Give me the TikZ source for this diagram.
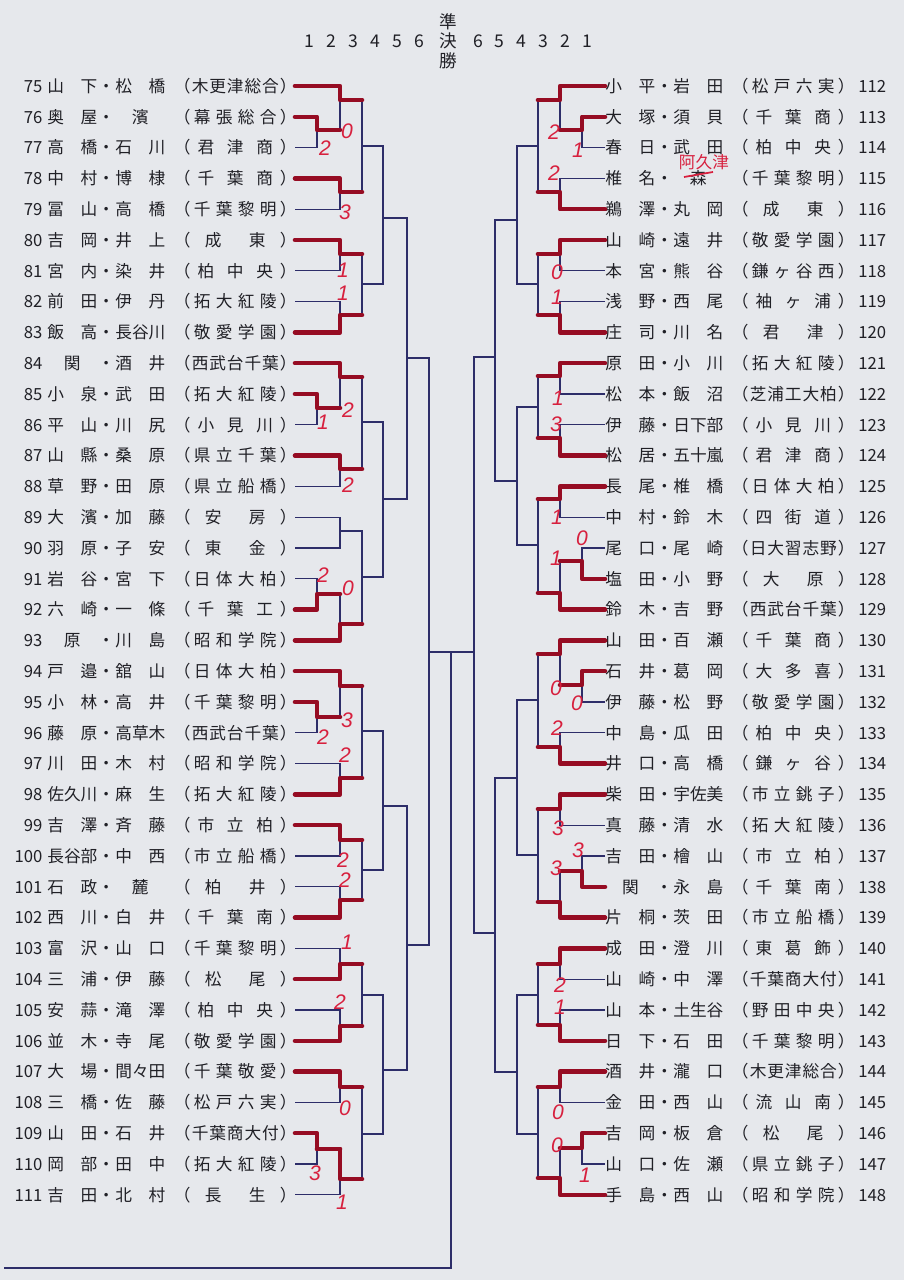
\documentclass[tikz,border=0pt]{standalone}
\usepackage{fontspec}
\setmainfont{Noto Sans CJK JP}
\newfontfamily\handfont{Liberation Sans}
\definecolor{paper}{RGB}{230,232,236}
\definecolor{ink}{RGB}{32,32,38}
\definecolor{navy}{RGB}{45,45,105}
\definecolor{marker}{RGB}{150,12,35}
\definecolor{pen}{RGB}{215,32,62}
\tikzset{
  wire/.style={navy, line width=0.7pt},
  won/.style={marker, line width=2.6pt, line cap=round, line join=round},
  entry/.style={inner sep=0pt, anchor=west, text=ink, font=\fontsize{9.5}{10}\selectfont},
  score/.style={inner sep=0pt, text=pen, font=\handfont\itshape\fontsize{12}{12}\selectfont},
  head/.style={inner sep=0pt, text=ink, font=\fontsize{10}{11.1}\selectfont}
}
% spread the characters of a name / a school over a fixed box
\makeatletter
\def\spr#1{\hfil\expandafter\spr@#1\@nil}
\def\spr@#1#2\@nil{#1\ifx\relax#2\relax\hfil\else\hfill\spr@#2\@nil\fi}
\def\sch#1{\hfil\expandafter\sch@#1\@nil}
\def\sch@#1#2\@nil{#1\ifx\relax#2\relax\hfil\else\hfil\hfil\sch@#2\@nil\fi}
\makeatother
\newcommand\rowbox[3]{%
  \hbox to 1cm{\spr{#1}}\hbox to .36cm{\hss ・\hss}\hbox to 1cm{\spr{#2}}\hskip .16cm%
  \hbox to .36cm{\hss （\hss}\hbox to 1.76cm{\sch{#3}}\hbox to .36cm{\hss ）\hss}}
% one match: name, upper input, lower input, column, exit height
\newcommand\bout[5]{%
  \draw[wire] (#2) -- (#2 -| #4) -- (#3 -| #4) -- (#3);
  \path (#4) ++(0,#5) coordinate (#1);}
% winner marked in red: input, match, next column
\newcommand\bwin[3]{%
  \draw[won] (#1) -- (#1 -| #2) -- (#2) -- (#2 -| #3);}

\begin{document}
\begin{tikzpicture}[x=0.02cm, y=-0.02cm]
  \useasboundingbox (0,0) rectangle (904,1280);
  \fill[paper] (0,0) rectangle (904,1280);

  % round numbers
  \foreach \hx/\hv [count=\k] in {309/1,331/2,353/3,375/4,397/5,419/6,
      478/6,499/5,521/4,543/3,565/2,587/1}
    \node[head] (hd\k) at (\hx,41) {\hv};
  \node[head, align=center] (semi) at (448,41) {準\\決\\勝};

  \foreach \k/\xl/\xr in {1/317/582,2/340/560,3/362/538,4/383/517,5/407/495,6/429/474} {
    \coordinate (cl\k) at (\xl,0);
    \coordinate (cr\k) at (\xr,0);
  }

  % left block
  \foreach \idx/\sn/\gn/\school in {
      75/山下/松橋/木更津総合, 76/奥屋/濱/幕張総合, 77/高橋/石川/君津商,
      78/中村/博棣/千葉商, 79/冨山/高橋/千葉黎明, 80/吉岡/井上/成東,
      81/宮内/染井/柏中央, 82/前田/伊丹/拓大紅陵, 83/飯高/長谷川/敬愛学園,
      84/関/酒井/西武台千葉, 85/小泉/武田/拓大紅陵, 86/平山/川尻/小見川,
      87/山縣/桑原/県立千葉, 88/草野/田原/県立船橋, 89/大濱/加藤/安房,
      90/羽原/子安/東金, 91/岩谷/宮下/日体大柏, 92/六崎/一條/千葉工,
      93/原/川島/昭和学院, 94/戸邉/舘山/日体大柏, 95/小林/高井/千葉黎明,
      96/藤原/高草木/西武台千葉, 97/川田/木村/昭和学院, 98/佐久川/麻生/拓大紅陵,
      99/吉澤/斉藤/市立柏, 100/長谷部/中西/市立船橋, 101/石政/麓/柏井,
      102/西川/白井/千葉南, 103/富沢/山口/千葉黎明, 104/三浦/伊藤/松尾,
      105/安蒜/滝澤/柏中央, 106/並木/寺尾/敬愛学園, 107/大場/間々田/千葉敬愛,
      108/三橋/佐藤/松戸六実, 109/山田/石井/千葉商大付, 110/岡部/田中/拓大紅陵,
      111/吉田/北村/長生} {
    \pgfmathsetmacro\yy{86+(\idx-75)*30.8}
    \coordinate (L\idx) at (295,\yy);
    \node[entry] (tL\idx) at (8,\yy) {\hbox to .68cm{\hfil\idx}\hskip .1cm\rowbox{\sn}{\gn}{\school}};
  }

  % right block
  \foreach \idx/\sn/\gn/\school in {
      112/小平/岩田/松戸六実, 113/大塚/須貝/千葉商, 114/春日/武田/柏中央,
      115/椎名/森/千葉黎明, 116/鵜澤/丸岡/成東, 117/山崎/遠井/敬愛学園,
      118/本宮/熊谷/鎌ヶ谷西, 119/浅野/西尾/袖ヶ浦, 120/庄司/川名/君津,
      121/原田/小川/拓大紅陵, 122/松本/飯沼/芝浦工大柏, 123/伊藤/日下部/小見川,
      124/松居/五十嵐/君津商, 125/長尾/椎橋/日体大柏, 126/中村/鈴木/四街道,
      127/尾口/尾崎/日大習志野, 128/塩田/小野/大原, 129/鈴木/吉野/西武台千葉,
      130/山田/百瀬/千葉商, 131/石井/葛岡/大多喜, 132/伊藤/松野/敬愛学園,
      133/中島/瓜田/柏中央, 134/井口/高橋/鎌ヶ谷, 135/柴田/宇佐美/市立銚子,
      136/真藤/清水/拓大紅陵, 137/吉田/檜山/市立柏, 138/関/永島/千葉南,
      139/片桐/茨田/市立船橋, 140/成田/澄川/東葛飾, 141/山崎/中澤/千葉商大付,
      142/山本/土生谷/野田中央, 143/日下/石田/千葉黎明, 144/酒井/瀧口/木更津総合,
      145/金田/西山/流山南, 146/吉岡/板倉/松尾, 147/山口/佐瀬/県立銚子,
      148/手島/西山/昭和学院} {
    \pgfmathsetmacro\yy{86+(\idx-112)*30.8}
    \coordinate (R\idx) at (605,\yy);
    \node[entry] (tR\idx) at (605,\yy) {\rowbox{\sn}{\gn}{\school}\hskip .06cm\idx};
  }

  % bracket, left
  \foreach \m/\p/\q/\col/\ey in {
      la1/L76/L77/cl1/130, la2/L75/la1/cl2/100, la3/L78/L79/cl2/192, la4/la2/la3/cl3/146,
      lb1/L80/L81/cl2/254, lb2/L82/L83/cl2/315, lb3/lb1/lb2/cl3/284, lab/la4/lb3/cl4/218,
      lc1/L85/L86/cl1/408, lc2/L84/lc1/cl2/377, lc3/L87/L88/cl2/469, lc4/lc2/lc3/cl3/422,
      ld1/L89/L90/cl2/531, ld2/L91/L92/cl1/594, ld3/ld2/L93/cl2/624, ld4/ld1/ld3/cl3/577,
      lcd/lc4/ld4/cl4/499, labcd/lab/lcd/cl5/358,
      le1/L95/L96/cl1/717, le2/L94/le1/cl2/686, le3/L97/L98/cl2/778, le4/le2/le3/cl3/731,
      lf1/L99/L100/cl2/840, lf2/L101/L102/cl2/900, lf3/lf1/lf2/cl3/870, lef/le4/lf3/cl4/806,
      lg1/L103/L104/cl2/964, lg2/L105/L106/cl2/1026, lg3/lg1/lg2/cl3/995,
      lh1/L107/L108/cl2/1087, lh2/L109/L110/cl1/1149, lh3/lh2/L111/cl2/1179, lh4/lh1/lh3/cl3/1134,
      lgh/lg3/lh4/cl4/1070, lefgh/lef/lgh/cl5/945, SL/labcd/lefgh/cl6/652} {
    \bout{\m}{\p}{\q}{\col}{\ey}
  }

  % bracket, right
  \foreach \m/\p/\q/\col/\ey in {
      ra1/R113/R114/cr1/130, ra2/R112/ra1/cr2/100, ra3/R115/R116/cr2/192, ra4/ra2/ra3/cr3/146,
      rb1/R117/R118/cr2/254, rb2/R119/R120/cr2/315, rb3/rb1/rb2/cr3/284, rab/ra4/rb3/cr4/220,
      rc1/R121/R122/cr2/376, rc2/R123/R124/cr2/438, rc3/rc1/rc2/cr3/407,
      rd1/R125/R126/cr2/499, rd2/R127/R128/cr1/561, rd3/rd2/R129/cr2/593, rd4/rd1/rd3/cr3/545,
      rcd/rc3/rd4/cr4/481, rabcd/rab/rcd/cr5/357,
      re1/R131/R132/cr1/685, re2/R130/re1/cr2/654, re3/R133/R134/cr2/747, re4/re2/re3/cr3/700,
      rf1/R135/R136/cr2/809, rf2/R137/R138/cr1/871, rf3/rf2/R139/cr2/902, rf4/rf1/rf3/cr3/855,
      ref/re4/rf4/cr4/778,
      rg1/R140/R141/cr2/964, rg2/R142/R143/cr2/1025, rg3/rg1/rg2/cr3/995,
      rh1/R144/R145/cr2/1087, rh2/R146/R147/cr1/1148, rh3/rh2/R148/cr2/1178, rh4/rh1/rh3/cr3/1134,
      rgh/rg3/rh4/cr4/1072, refgh/ref/rgh/cr5/933, SR/rabcd/refgh/cr6/652} {
    \bout{\m}{\p}{\q}{\col}{\ey}
  }

  % semi-final and the line to the final
  \coordinate (fin) at (451,652);
  \coordinate (tail) at (4,1268);
  \draw[wire] (SL) -- (SR);
  \draw[wire] (fin) |- (tail);

  % winners in red
  \foreach \p/\m/\col in {
      L76/la1/cl2, L75/la2/cl3, L78/la3/cl3, L80/lb1/cl3, L83/lb2/cl3,
      L85/lc1/cl2, L84/lc2/cl3, L87/lc3/cl3, L92/ld2/cl2, L93/ld3/cl3,
      L95/le1/cl2, L94/le2/cl3, L98/le3/cl3, L99/lf1/cl3, L102/lf2/cl3,
      L104/lg1/cl3, L106/lg2/cl3, L107/lh1/cl3, L109/lh2/cl2, lh2/lh3/cl3,
      R113/ra1/cr2, R112/ra2/cr3, R116/ra3/cr3, R117/rb1/cr3, R120/rb2/cr3,
      R121/rc1/cr3, R124/rc2/cr3, R125/rd1/cr3, R128/rd2/cr2, R129/rd3/cr3,
      R131/re1/cr2, R130/re2/cr3, R134/re3/cr3, R135/rf1/cr3, R138/rf2/cr2,
      R139/rf3/cr3, R140/rg1/cr3, R143/rg2/cr3, R144/rh1/cr3, R146/rh2/cr2,
      R148/rh3/cr3} {
    \bwin{\p}{\m}{\col}
  }

  % handwritten scores
  \foreach \sx/\sy/\sv [count=\k] in {
      347/131/0, 325/148/2, 345/212/3, 343/270/1, 343/293/1, 348/410/2, 323/422/1,
      348/485/2, 323/575/2, 348/588/0, 347/720/3, 323/737/2, 345/755/2, 343/860/2,
      345/880/2, 347/942/1, 340/1002/2, 345/1108/0, 315/1173/3, 342/1202/1,
      554/132/2, 578/150/1, 554/173/2, 557/272/0, 557/297/1, 558/398/1, 556/424/3,
      557/517/1, 582/538/0, 556/558/1, 556/688/0, 577/703/0, 557/728/2, 558/828/3,
      578/850/3, 556/868/3, 560/985/2, 560/1007/1, 558/1112/0, 557/1145/0, 585/1175/1}
    \node[score] (sc\k) at (\sx,\sy) {\sv};

  % correction of 115
  \draw[pen, line width=1pt] (684,177) -- (713,172);
  \node[inner sep=0pt, text=pen, font=\fontsize{9.5}{10}\selectfont] (fix115) at (704,162) {阿久津};
\end{tikzpicture}
\end{document}
